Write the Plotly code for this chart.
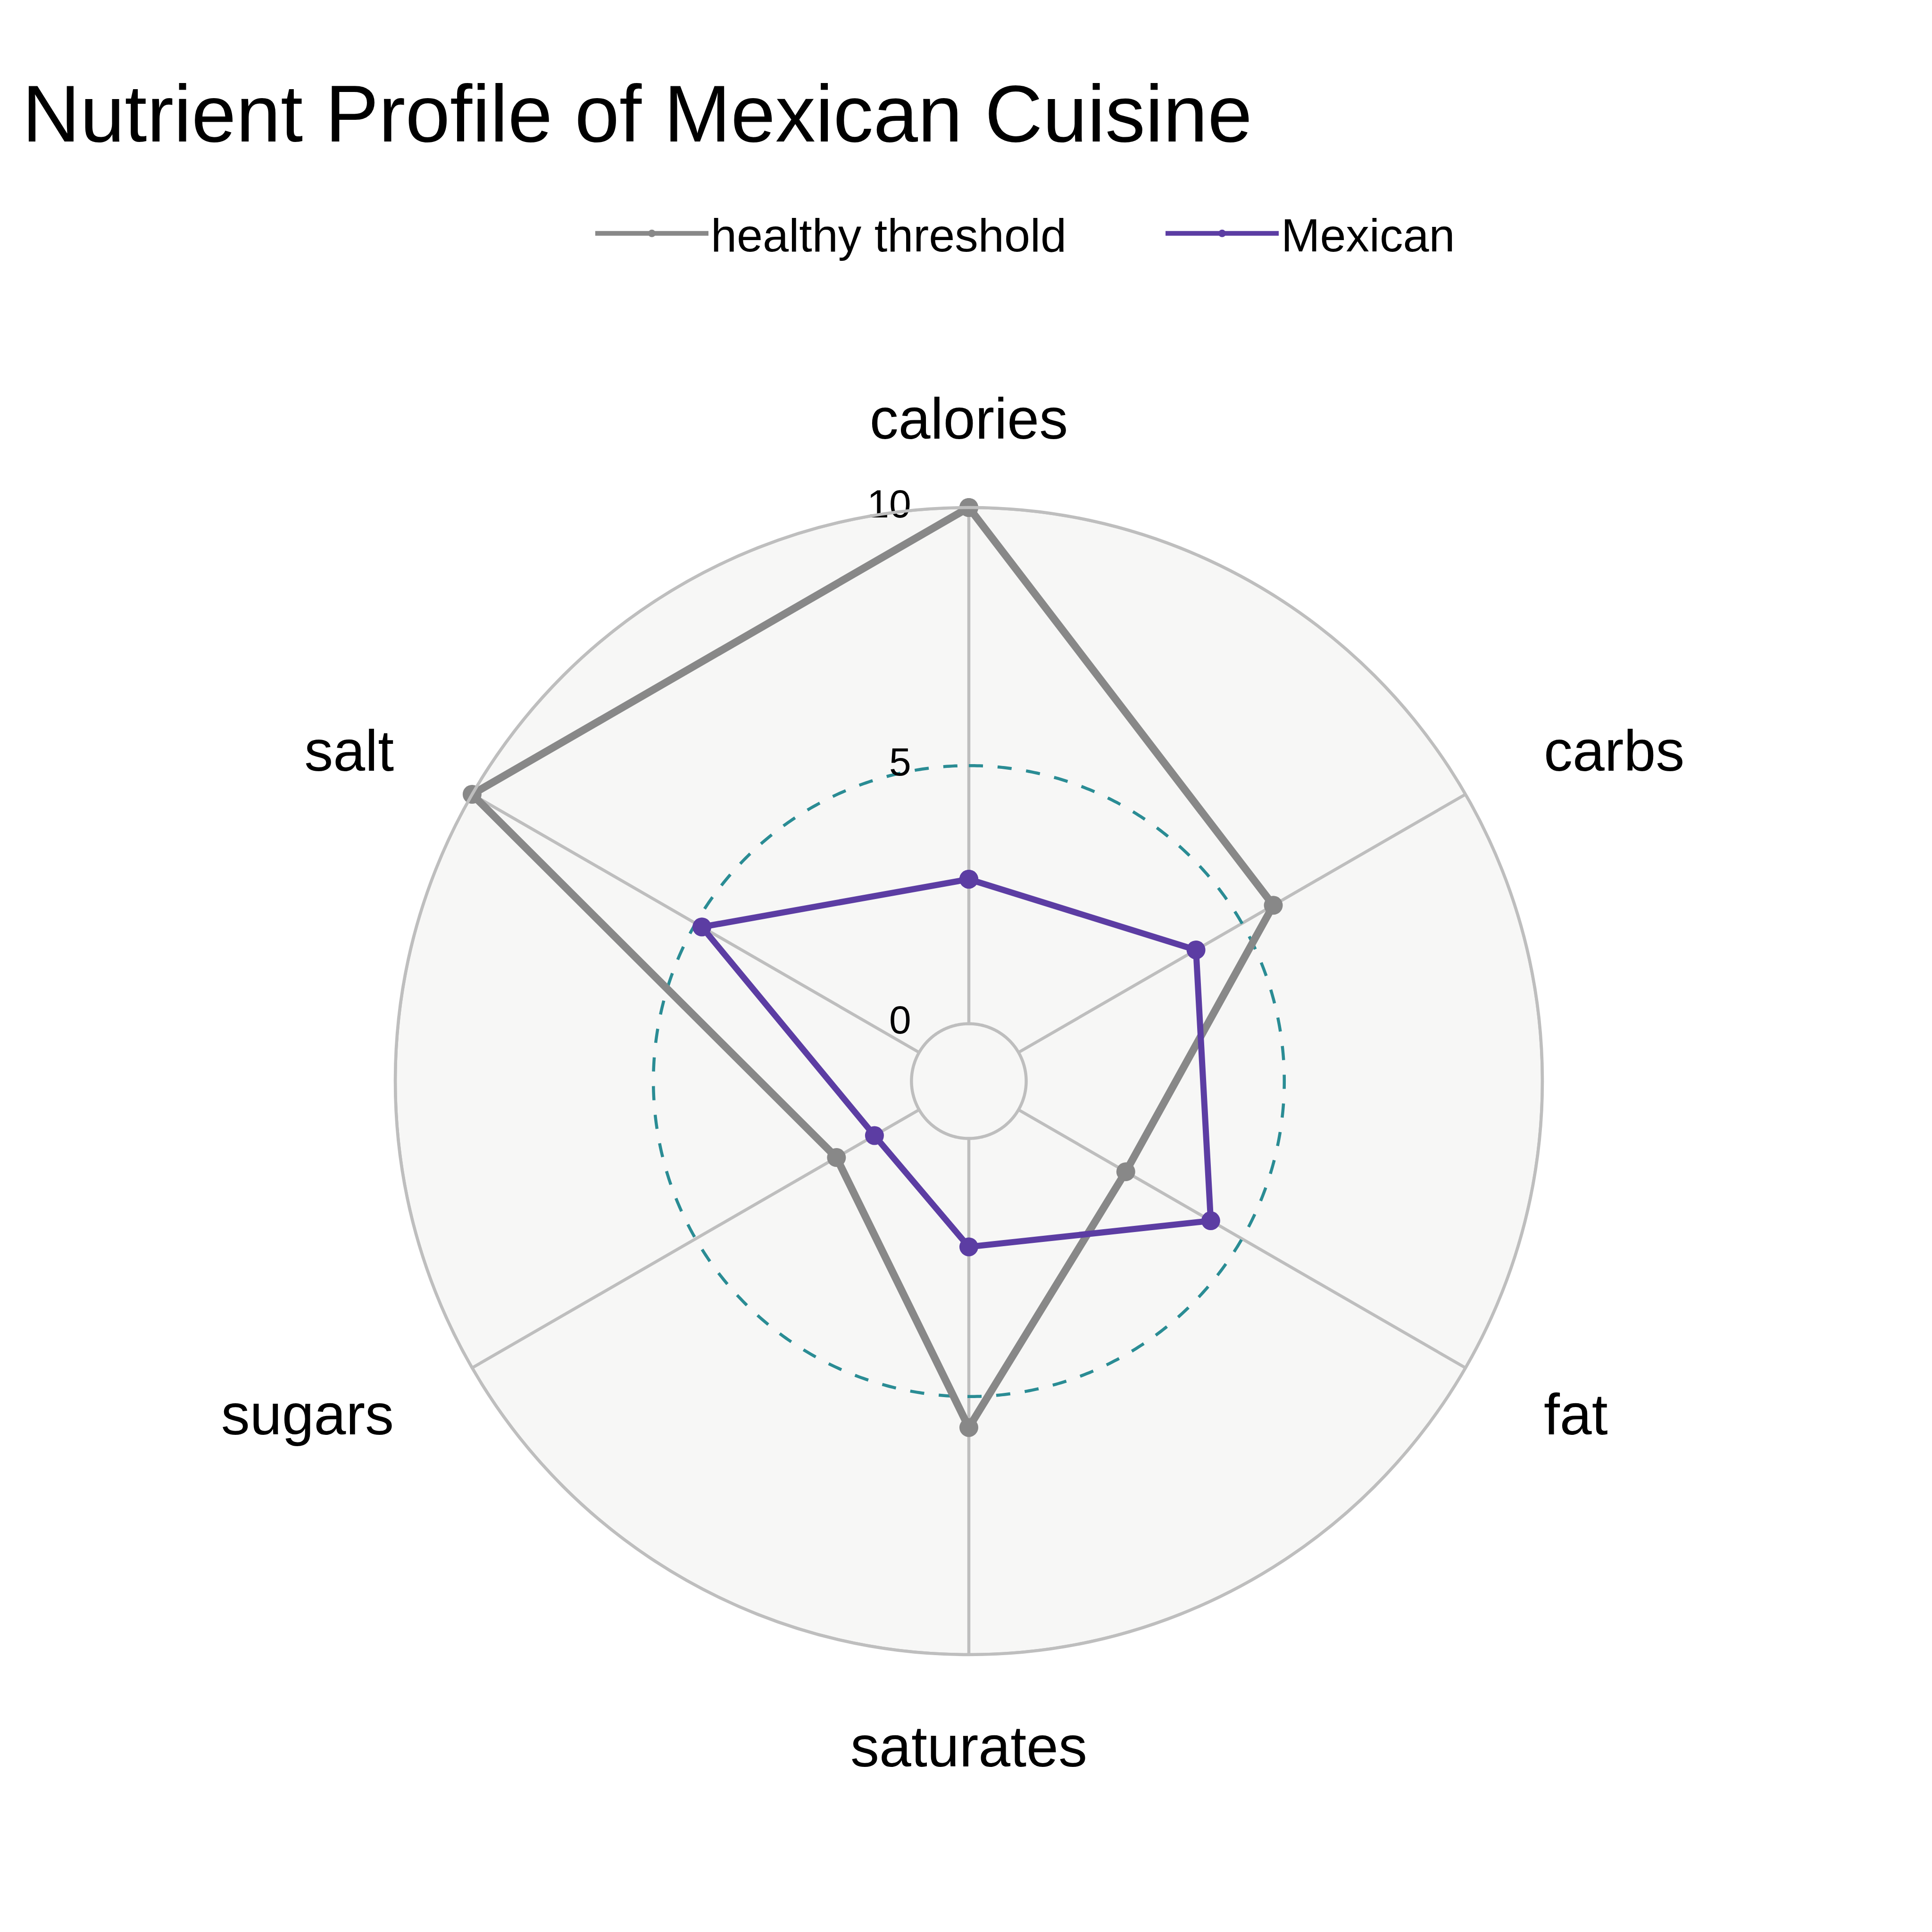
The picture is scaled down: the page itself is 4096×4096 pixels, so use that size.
import numpy as np
import plotly.graph_objects as go

# ---------------- data ----------------
categories = ["calories", "carbs", "fat", "saturates", "sugars", "salt"]
healthy_threshold = [10.0, 5.7, 2.4, 5.6, 1.85, 10.0]
mexican = [2.8, 3.97, 4.3, 2.1, 1.0, 4.86]
grid_values = [0, 5, 10]
grid_labels = ["0", "5", "10"]
series_names = ["healthy threshold", "Mexican"]
title_text = "Nutrient Profile of Mexican Cuisine"

# ---------------- style ----------------
FONT = "Liberation Sans, Arial, Helvetica, sans-serif"
GREY_LINE = "#888888"
PURPLE = "#5C3DA3"
GRID_GREY = "#BEBEBE"
MID_TEAL = "#2A8C94"
BG = "#F7F7F6"
W = H = 4096
GRID_W = 6.5

R_MIN = -10.0 / 9.0   # centre offset (hole) as in ggradar
R_MAX = 10.0
R_MAX_LABELS = 13.0   # outer range of the (invisible) label layer
LABEL_R = 11.75

n = len(categories)
angles = [i * 360.0 / n for i in range(n)]
closed_angles = angles + [angles[0]]

fig = go.Figure()

# spokes from the 0-circle to the outer circle
spoke_r, spoke_t = [], []
for a in angles:
    spoke_r += [grid_values[0], grid_values[-1], None]
    spoke_t += [a, a, None]
fig.add_trace(go.Scatterpolar(r=spoke_r, theta=spoke_t, mode="lines",
                              line=dict(color=GRID_GREY, width=GRID_W),
                              hoverinfo="skip", showlegend=False))

# grid circles
circ_t = np.linspace(0, 360, 721)
for v in grid_values:
    if v == grid_values[1]:
        ln = dict(color=MID_TEAL, width=GRID_W, dash="30px,31px")
    else:
        ln = dict(color=GRID_GREY, width=GRID_W)
    fig.add_trace(go.Scatterpolar(r=[v] * len(circ_t), theta=circ_t, mode="lines",
                                  line=ln, hoverinfo="skip", showlegend=False))

# data series
fig.add_trace(go.Scatterpolar(
    r=healthy_threshold + [healthy_threshold[0]], theta=closed_angles,
    mode="lines+markers", name=series_names[0],
    line=dict(color=GREY_LINE, width=16),
    marker=dict(color=GREY_LINE, size=40),
    cliponaxis=False))
fig.add_trace(go.Scatterpolar(
    r=mexican + [mexican[0]], theta=closed_angles,
    mode="lines+markers", name=series_names[1],
    line=dict(color=PURPLE, width=13),
    marker=dict(color=PURPLE, size=40),
    cliponaxis=False))

# grid value labels (left of the top spoke)
fig.add_trace(go.Scatterpolar(
    r=grid_values, theta=[angles[0]] * len(grid_values),
    mode="markers+text", text=grid_labels, textposition="middle left",
    textfont=dict(family=FONT, size=84, color="#000000"),
    marker=dict(size=194, opacity=0),
    hoverinfo="skip", showlegend=False, cliponaxis=False))

# category labels (on a concentric, invisible polar layer with a larger range)
def label_pos(a):
    s = np.sin(np.radians(a))
    if abs(s) < 1e-6:
        return "middle center"
    return "middle right" if s > 0 else "middle left"

fig.add_trace(go.Scatterpolar(
    r=[LABEL_R] * n, theta=angles, mode="text", text=categories,
    textposition=[label_pos(a) for a in angles],
    textfont=dict(family=FONT, size=122, color="#000000"),
    hoverinfo="skip", showlegend=False, cliponaxis=False, subplot="polar2"))

cx, cy, rad = 2054.0, 2292.0, 1216.0
rad2 = rad * (R_MAX_LABELS - R_MIN) / (R_MAX - R_MIN)
label_shift = 15.0  # text baseline nudge for the label layer

def dom(r, ccy):
    return dict(x=[(cx - r) / W, (cx + r) / W], y=[(H - ccy - r) / H, (H - ccy + r) / H])

hidden_ang = dict(type="linear", thetaunit="degrees", rotation=90, direction="clockwise",
                  visible=False)

fig.update_layout(
    width=W, height=H,
    margin=dict(l=0, r=0, t=0, b=0),
    paper_bgcolor="white",
    font=dict(family=FONT, color="#000000"),
    title=dict(text=title_text, font=dict(family=FONT, size=170, color="#000000"),
               xref="container", yref="container", x=47 / W, xanchor="left",
               y=1 - 240 / H, yanchor="middle"),
    legend=dict(orientation="h", x=1257 / W, xanchor="left", y=1 - 495 / H,
                yanchor="middle", font=dict(family=FONT, size=99, color="#000000"),
                itemwidth=240, entrywidth=954, bgcolor="rgba(0,0,0,0)"),
    polar=dict(
        domain=dom(rad, cy),
        bgcolor=BG,
        radialaxis=dict(range=[R_MIN, R_MAX], showgrid=False, showline=False,
                        showticklabels=False, ticks=""),
        angularaxis=dict(type="linear", thetaunit="degrees", rotation=90,
                         direction="clockwise", showgrid=False, showticklabels=False,
                         ticks="", showline=True, linecolor=GRID_GREY, linewidth=GRID_W),
    ),
    polar2=dict(
        domain=dom(rad2, cy + label_shift),
        bgcolor="rgba(0,0,0,0)",
        radialaxis=dict(range=[R_MIN, R_MAX_LABELS], visible=False),
        angularaxis=hidden_ang,
    ),
)

fig.write_html("out.html")
